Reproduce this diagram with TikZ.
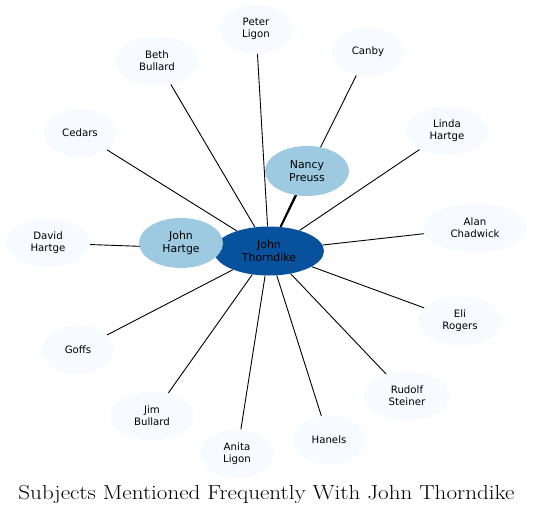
\documentclass[tikz,border=0pt]{standalone}
\usepackage{fontspec}
\newfontfamily\dv{DejaVu Sans}
\usetikzlibrary{shapes.geometric}
\pgfdeclarelayer{bg}
\pgfsetlayers{bg,main}
\definecolor{outerc}{HTML}{F7FBFF}
\definecolor{midc}{HTML}{9ECAE1}
\definecolor{centc}{HTML}{08519C}
\tikzset{
  ell/.style={ellipse, inner sep=0pt, align=center, font=\dv\fontsize{10.2}{12}\selectfont},
  outer/.style={ell, fill=outerc, minimum width=74pt, minimum height=49pt},
  mid/.style={ell, fill=midc, minimum width=84pt, minimum height=50pt, font=\dv\fontsize{10.9}{12.5}\selectfont},
  cent/.style={ell, fill=centc, minimum width=110pt, minimum height=49pt, font=\dv\fontsize{10.9}{12.5}\selectfont},
  edge/.style={draw=black, line width=0.9pt},
}
\begin{document}
\begin{tikzpicture}[x=1pt,y=-1pt]
\useasboundingbox (0,0) rectangle (535,515);
\node[cent] (jt) at (269,251) {John\\Thorndike};
\node[mid] (jh) at (181,243) {John\\Hartge};
\node[mid] (np) at (307,171) {Nancy\\Preuss};
\node[outer] (pl) at (256,29) {Peter\\Ligon};
\node[outer, minimum width=84pt] (bb) at (157,61) {Beth\\Bullard};
\node[outer, minimum width=72pt] (ca) at (368,52) {Canby};
\node[outer, minimum width=72pt] (ce) at (80,133) {Cedars};
\node[outer, minimum width=82pt] (lh) at (447,131) {Linda\\Hartge};
\node[outer, minimum width=104pt] (ac) at (475,228) {Alan\\Chadwick};
\node[outer, minimum width=84pt] (dh) at (48,243) {David\\Hartge};
\node[outer, minimum width=84pt] (er) at (460,321) {Eli\\Rogers};
\node[outer, minimum width=72pt] (go) at (78,350) {Goffs};
\node[outer, minimum width=86pt] (rs) at (407,396) {Rudolf\\Steiner};
\node[outer, minimum width=84pt] (jb) at (152,416) {Jim\\Bullard};
\node[outer] (al) at (237,454) {Anita\\Ligon};
\node[outer, minimum width=72pt] (ha) at (329,440) {Hanels};
\node[anchor=base, inner sep=0pt] (title) at (266.5,499) {\scalebox{1.136}[1]{\fontsize{20.3}{24}\selectfont Subjects Mentioned Frequently With John Thorndike}};
\begin{pgfonlayer}{bg}
\foreach \n in {jh,pl,bb,ca,ce,lh,ac,dh,er,go,rs,jb,al,ha}
  \draw[edge] (jt) -- (\n);
\draw[edge, line width=1.8pt] (jt) -- (np);
\end{pgfonlayer}
\end{tikzpicture}
\end{document}
